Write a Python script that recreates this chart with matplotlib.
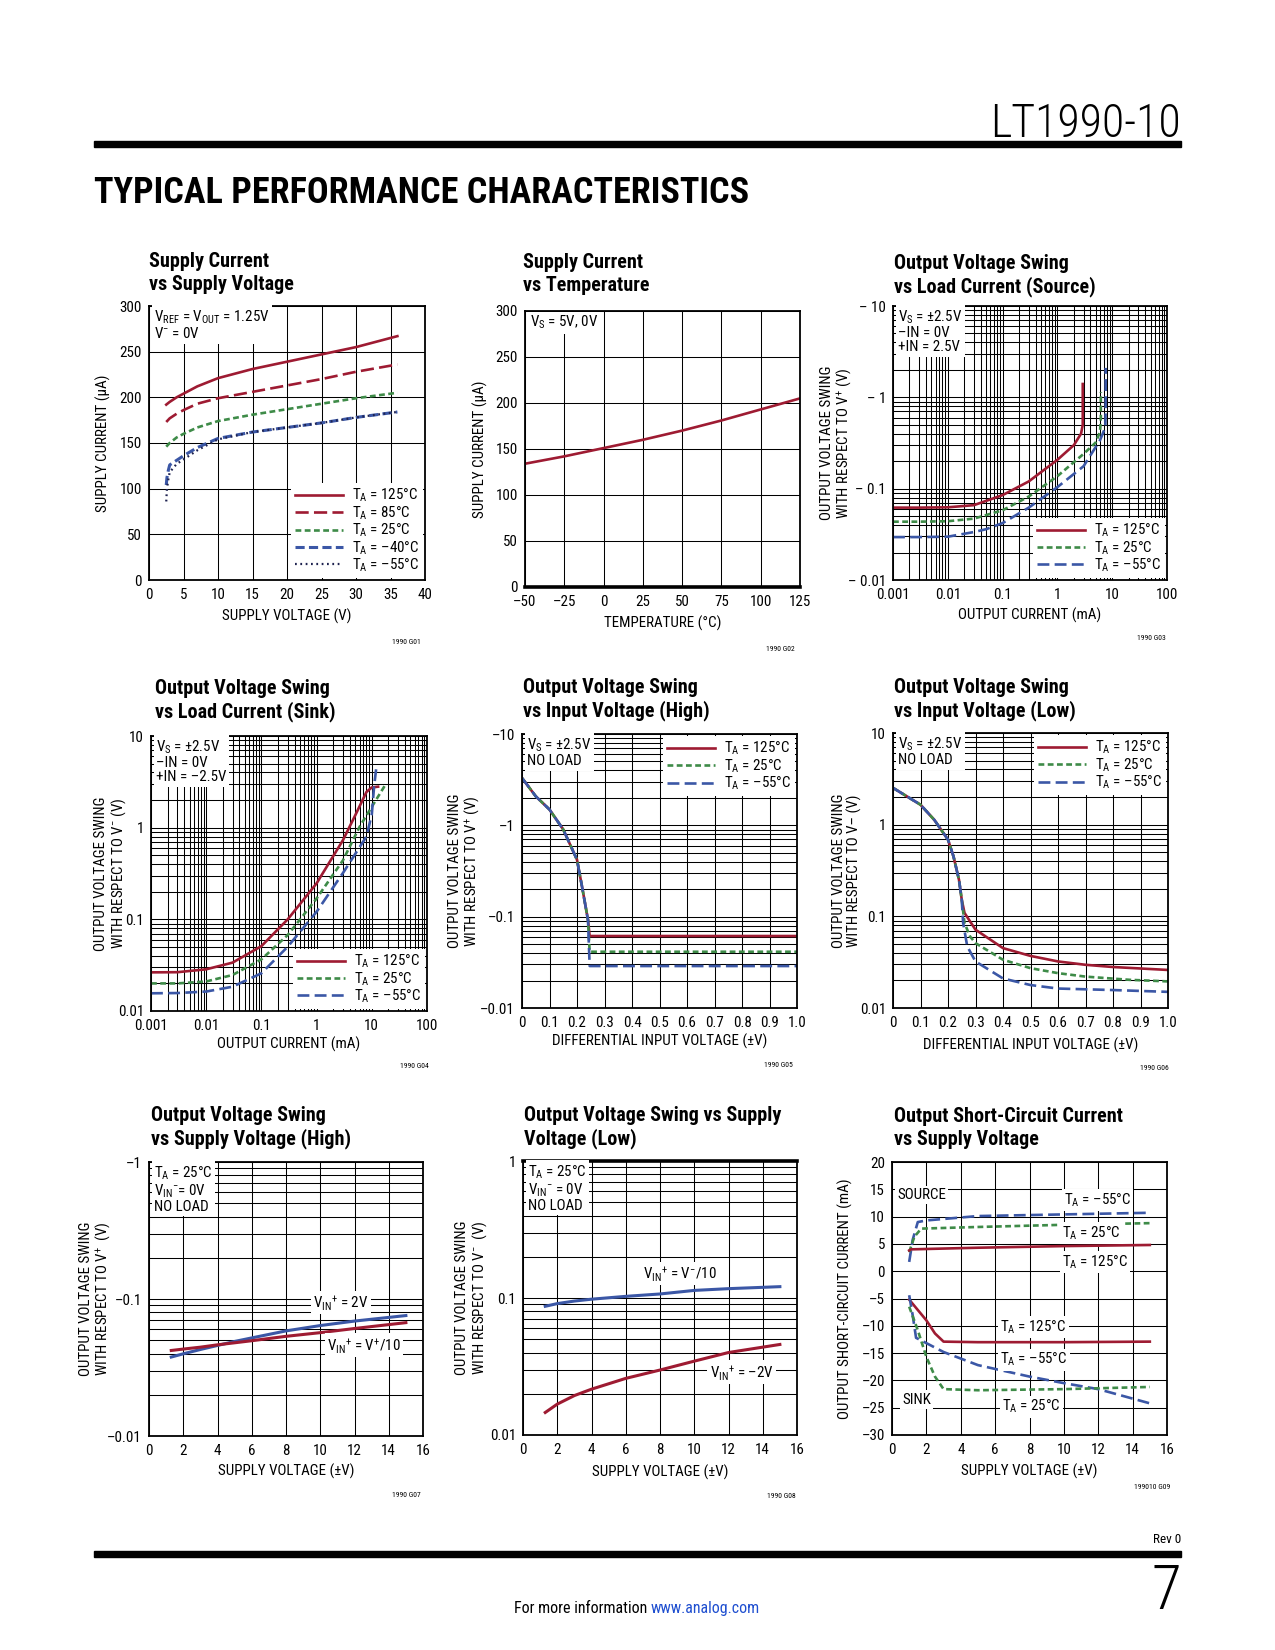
import matplotlib
matplotlib.use("Agg")
import matplotlib.pyplot as plt
from matplotlib import font_manager
from matplotlib.patches import Rectangle
from matplotlib.ticker import NullFormatter, FixedLocator, LogLocator

# ==============================================================================
# 1. DATA
# ==============================================================================
# G01 supply current vs supply voltage
g01_vs = [2.5, 3, 4, 5, 7, 10, 15, 20, 25, 30, 36]
g01_125 = [192, 195, 200, 204, 212, 221, 231, 239, 247, 255, 267]
g01_85 = [173, 177, 182, 186, 193, 199, 206, 213, 220, 228, 236]
g01_25 = [146, 150, 156, 160, 167, 174, 181, 187, 193, 199, 205]
g01_vs_cold = [2.5, 2.6, 2.8, 3, 4, 5, 7, 10, 15, 20, 25, 30, 36]
g01_m40 = [104, 112, 120, 126, 131, 136, 145, 155, 162, 167, 172, 178, 184]
g01_m55 = [86, 100, 110, 118, 127, 132, 142, 154, 162, 167, 172, 178, 184]

# G02 supply current vs temperature
g02_temp = [-50, -25, 0, 25, 50, 75, 100, 125]
g02_icc = [134, 142, 151, 160, 170, 181, 193, 205]

# G03 swing vs load current (source), magnitudes
g03_i_125 = [0.001, 0.003, 0.01, 0.03, 0.1, 0.3, 1, 2, 2.7, 2.9, 2.9]
g03_v_125 = [0.062, 0.062, 0.0625, 0.066, 0.085, 0.12, 0.207, 0.3, 0.4, 0.5, 1.4]
g03_i_25 = [0.001, 0.003, 0.01, 0.03, 0.1, 0.3, 1, 3, 5, 6, 6.2, 6.2]
g03_v_25 = [0.0435, 0.0435, 0.044, 0.047, 0.058, 0.082, 0.137, 0.24, 0.32, 0.42, 0.6, 1.14]
g03_i_m55 = [0.001, 0.003, 0.01, 0.03, 0.05, 0.1, 0.3, 1, 3, 6, 7.5, 7.6, 7.6]
g03_v_m55 = [0.0295, 0.0295, 0.0298, 0.0335, 0.036, 0.042, 0.062, 0.104, 0.176, 0.34, 0.47, 0.8, 2.1]

# G04 swing vs load current (sink)
g04_i_125 = [0.001, 0.003, 0.01, 0.03, 0.1, 0.3, 1, 3, 5, 8, 10, 13]
g04_v_125 = [0.0264, 0.0265, 0.0285, 0.0337, 0.051, 0.1, 0.247, 0.73, 1.36, 2.45, 2.75, 2.8]
g04_i_25 = [0.001, 0.003, 0.01, 0.03, 0.1, 0.3, 1, 3, 6, 10, 18]
g04_v_25 = [0.020, 0.020, 0.021, 0.0247, 0.0366, 0.0675, 0.169, 0.44, 1.02, 1.69, 3.0]
g04_i_m55 = [0.001, 0.003, 0.01, 0.03, 0.1, 0.3, 1, 3, 8, 10, 11, 12]
g04_v_m55 = [0.0156, 0.0157, 0.0163, 0.0184, 0.0258, 0.0503, 0.121, 0.32, 0.8, 1.4, 2.8, 4.4]

# G05 swing vs input voltage (high), magnitudes
g05_vin = [0, 0.05, 0.1, 0.15, 0.2, 0.22, 0.24, 0.246, 1.0]
g05_125 = [3.3, 2.08, 1.49, 0.9, 0.42, 0.2, 0.092, 0.0614, 0.0614]
g05_25 = [3.3, 2.08, 1.49, 0.9, 0.42, 0.2, 0.092, 0.0413, 0.0413]
g05_m55 = [3.3, 2.08, 1.49, 0.9, 0.42, 0.2, 0.092, 0.0288, 0.0288]

# G06 swing vs input voltage (low)
g06_vin_125 = [0, 0.05, 0.1, 0.15, 0.2, 0.22, 0.24, 0.25, 0.26, 0.3, 0.4, 0.5, 0.6, 0.7, 0.8, 1.0]
g06_125 = [2.52, 2.04, 1.65, 1.13, 0.686, 0.45, 0.25, 0.152, 0.109, 0.0715, 0.045, 0.037, 0.0322, 0.0296, 0.028, 0.026]
g06_vin_25 = [0, 0.05, 0.1, 0.15, 0.2, 0.22, 0.24, 0.25, 0.26, 0.28, 0.3, 0.4, 0.5, 0.6, 0.7, 0.86, 1.0]
g06_25 = [2.52, 2.04, 1.65, 1.13, 0.686, 0.45, 0.25, 0.152, 0.0846, 0.0605, 0.051, 0.0336, 0.0272, 0.024, 0.022, 0.0203, 0.0195]
g06_vin_m55 = [0, 0.05, 0.1, 0.15, 0.2, 0.22, 0.24, 0.25, 0.255, 0.27, 0.3, 0.4, 0.5, 0.6, 0.8, 1.0]
g06_m55 = [2.52, 2.04, 1.65, 1.13, 0.686, 0.45, 0.25, 0.152, 0.085, 0.047, 0.0322, 0.021, 0.0178, 0.0163, 0.0157, 0.015]

# G07 swing vs supply voltage (high), magnitudes
g07_vs = [1.3, 2, 3, 4, 5, 6, 8, 10, 12, 15]
g07_2v = [0.0377, 0.0398, 0.0428, 0.0458, 0.049, 0.052, 0.0585, 0.064, 0.069, 0.0757]
g07_div10 = [0.0421, 0.0431, 0.0445, 0.0463, 0.0479, 0.0496, 0.0534, 0.0568, 0.0609, 0.0672]

# G08 swing vs supply voltage (low)
g08_vs = [1.3, 2, 3, 4, 6, 8, 10, 12, 15]
g08_div10 = [0.087, 0.091, 0.095, 0.098, 0.1028, 0.107, 0.1136, 0.117, 0.121]
g08_m2v = [0.0146, 0.0168, 0.0194, 0.0216, 0.0259, 0.0298, 0.0346, 0.0400, 0.0458]

# G09 short-circuit current vs supply voltage
g09_src_m55_vs = [1.0, 1.2, 1.5, 2, 5, 10, 15]
g09_src_m55 = [1.7, 5.7, 9.0, 9.3, 10.1, 10.4, 10.7]
g09_src_25_vs = [1.0, 1.3, 1.7, 5, 10, 15]
g09_src_25 = [3.5, 6.3, 7.8, 8.1, 8.5, 8.8]
g09_src_125_vs = [1.0, 1.1, 5, 10, 15]
g09_src_125 = [3.8, 4.0, 4.3, 4.6, 4.8]
g09_snk_125_vs = [1.0, 2, 2.5, 3, 5, 10, 15]
g09_snk_125 = [-5.2, -9.0, -11.4, -12.9, -13.0, -13.0, -12.9]
g09_snk_m55_vs = [1.0, 1.2, 1.4, 3, 5, 8, 10, 12, 15]
g09_snk_m55 = [-4.4, -8.0, -12.2, -14.8, -17.2, -19.3, -20.5, -21.6, -24.2]
g09_snk_25_vs = [1.0, 1.5, 2, 2.5, 3, 5, 10, 15]
g09_snk_25 = [-6.5, -10.8, -15.7, -19.3, -21.6, -21.8, -21.6, -21.2]

# tick labels
log_ticks_i = [0.001, 0.01, 0.1, 1, 10, 100]
log_labels_i = ['0.001', '0.01', '0.1', '1', '10', '100']
diff_ticks = [0, 0.1, 0.2, 0.3, 0.4, 0.5, 0.6, 0.7, 0.8, 0.9, 1.0]
diff_labels = ['0', '0.1', '0.2', '0.3', '0.4', '0.5', '0.6', '0.7', '0.8', '0.9', '1.0']

# ==============================================================================
# 2. STYLE
# ==============================================================================
W, H = 1275, 1650
RED = '#9E1B32'
GREEN = '#3E8B48'
BLUE = '#3B57A6'
NAVY = '#1E2250'
LINK = '#1F4FD0'


def pick_font(candidates):
    """first condensed family that has both a regular and a bold face"""
    faces = {}
    for f in font_manager.fontManager.ttflist:
        faces.setdefault(f.name, set()).add(f.weight)
    for name in candidates:
        ws = faces.get(name, set())
        if ws and any((w if isinstance(w, int) else 700 if w == 'bold' else 400) >= 600 for w in ws):
            return name
    return 'DejaVu Sans'


NARROW = pick_font(['Roboto Condensed', 'Archivo Narrow', 'PT Sans Narrow',
                    'IBM Plex Sans Condensed', 'Barlow Semi Condensed',
                    'Fira Sans Condensed', 'Liberation Sans'])

plt.rcParams['font.family'] = [NARROW, 'DejaVu Sans']
plt.rcParams['mathtext.fontset'] = 'custom'
plt.rcParams['mathtext.rm'] = NARROW
plt.rcParams['mathtext.it'] = NARROW + ':italic'
plt.rcParams['mathtext.bf'] = NARROW + ':bold'

FS = 10.8
LW = 1.9
STY_125 = dict(color=RED, lw=LW, ls='-')
STY_85 = dict(color=RED, lw=LW, ls=(0, (5, 2)))
STY_25 = dict(color=GREEN, lw=LW, ls=(0, (2.2, 1.3)))
STY_M40 = dict(color=BLUE, lw=2.2, ls=(0, (3, 1.4)))
STY_M55_DOT = dict(color=NAVY, lw=1.6, ls=(0, (0.8, 1.6)))
STY_M55 = dict(color=BLUE, lw=LW, ls=(0, (4.5, 2)))

TA = 'T$_{\\rm A}$ = '


def fig_xy(x, y):
    """pixel position (from top-left) -> figure fraction"""
    return x / W, 1 - y / H


def make_axes(fig, box):
    l, t, r, b = box
    ax = fig.add_axes([l / W, 1 - b / H, (r - l) / W, (b - t) / H])
    ax.tick_params(which='both', length=0, labelsize=FS)
    ax.tick_params(axis='x', pad=6)
    ax.tick_params(axis='y', pad=5)
    for s in ax.spines.values():
        s.set_linewidth(1.3)
    ax.grid(True, which='both', color='black', linewidth=0.75)
    ax.set_axisbelow(True)
    return ax


def log_y(ax, lo, hi, labels):
    ax.set_yscale('log')
    ax.set_ylim(lo, hi)
    ticks = [lo * 10 ** k for k in range(len(labels))]
    ax.yaxis.set_major_locator(FixedLocator(ticks))
    ax.set_yticklabels(labels)
    ax.yaxis.set_minor_locator(LogLocator(subs=range(2, 10)))
    ax.yaxis.set_minor_formatter(NullFormatter())


def log_x(ax):
    ax.set_xscale('log')
    ax.set_xlim(0.001, 100)
    ax.xaxis.set_major_locator(FixedLocator(log_ticks_i))
    ax.set_xticklabels(log_labels_i)
    ax.xaxis.set_minor_locator(LogLocator(subs=range(2, 10)))
    ax.xaxis.set_minor_formatter(NullFormatter())


def titles(fig, x, y, line1, line2):
    fig.text(*fig_xy(x, y), line1, fontsize=14.5, fontweight='bold', va='baseline')
    fig.text(*fig_xy(x, y + 23), line2, fontsize=14.5, fontweight='bold', va='baseline')


def labels(fig, box, xlab, ylab, xlab_y, ylab_x, code, code_xy):
    l, t, r, b = box
    fig.text(*fig_xy((l + r) / 2, xlab_y), xlab, fontsize=FS, ha='center', va='center')
    fig.text(*fig_xy(ylab_x, (t + b) / 2), ylab, fontsize=FS, ha='center', va='center',
             rotation=90, linespacing=1.05, multialignment='center')
    fig.text(*fig_xy(*code_xy), code, fontsize=5.5, ha='center', va='center')


def note(ax, text):
    ax.annotate(text, xy=(0, 1), xycoords='axes fraction', xytext=(5, -3),
                textcoords='offset pixels', ha='left', va='top', fontsize=FS,
                linespacing=1.0, zorder=6,
                bbox=dict(boxstyle='square,pad=0.15', fc='white', ec='none'))


def legend(ax, loc):
    leg = ax.legend(loc=loc, fontsize=FS, frameon=True, fancybox=False,
                    edgecolor='none', facecolor='white', framealpha=1,
                    borderpad=0.25, labelspacing=0.0, handlelength=3.2,
                    handletextpad=0.6, borderaxespad=0.15)
    leg.set_zorder(7)
    return leg


def line_label(ax, x, y, text):
    ax.text(x, y, text, fontsize=FS, ha='left', va='center', zorder=6,
            bbox=dict(boxstyle='square,pad=0.15', fc='white', ec='none'))


# ==============================================================================
# 3. PAGE
# ==============================================================================
fig = plt.figure(figsize=(W / 100, H / 100), dpi=100)

fig.text(*fig_xy(1181, 137), 'LT1990-10', fontsize=33, fontweight='light',
         ha='right', va='baseline')
fig.add_artist(Rectangle(fig_xy(94, 147), (1181 - 94) / W, 6 / H,
                         transform=fig.transFigure, color='black'))
fig.text(*fig_xy(94, 203), 'TYPICAL PERFORMANCE CHARACTERISTICS', fontsize=26,
         fontweight='black', va='baseline')

fig.add_artist(Rectangle(fig_xy(94, 1557), (1181 - 94) / W, 6 / H,
                         transform=fig.transFigure, color='black'))
fig.text(*fig_xy(1181, 1543), 'Rev 0', fontsize=9.5, ha='right', va='baseline')
fig.text(*fig_xy(1181, 1609), '7', fontsize=44, fontweight='light', ha='right', va='baseline')
fig.text(*fig_xy(651, 1613), 'For more information ', fontsize=11.5, ha='right', va='baseline')
fig.text(*fig_xy(651, 1613), 'www.analog.com', fontsize=11.5, ha='left', va='baseline',
         color=LINK)

# ---------------- G01 ----------------
box = (149, 306, 425, 580)
ax = make_axes(fig, box)
ax.plot(g01_vs, g01_125, label=TA + '125°C', **STY_125)
ax.plot(g01_vs, g01_85, label=TA + '85°C', **STY_85)
ax.plot(g01_vs, g01_25, label=TA + '25°C', **STY_25)
ax.plot(g01_vs_cold, g01_m40, label=TA + '–40°C', **STY_M40)
ax.plot(g01_vs_cold, g01_m55, label=TA + '–55°C', **STY_M55_DOT)
ax.set_xlim(0, 40)
ax.set_ylim(0, 300)
ax.set_xticks(range(0, 41, 5))
ax.set_yticks(range(0, 301, 50))
note(ax, 'V$_{\\rm REF}$ = V$_{\\rm OUT}$ = 1.25V\nV$^{-}$ = 0V')
legend(ax, 'lower right')
titles(fig, 149, 267, 'Supply Current', 'vs Supply Voltage')
labels(fig, box, 'SUPPLY VOLTAGE (V)', 'SUPPLY CURRENT (µA)', 616, 103,
       '1990 G01', (406, 642))

# ---------------- G02 ----------------
box = (525, 311, 800, 587)
ax = make_axes(fig, box)
ax.plot(g02_temp, g02_icc, **STY_125)
ax.set_xlim(-50, 125)
ax.set_ylim(0, 300)
ax.set_xticks(range(-50, 126, 25))
ax.set_xticklabels(['–50', '–25', '0', '25', '50', '75', '100', '125'])
ax.set_yticks(range(0, 301, 50))
ax.spines['bottom'].set_linewidth(2.6)
note(ax, 'V$_{\\rm S}$ = 5V, 0V')
titles(fig, 523, 268, 'Supply Current', 'vs Temperature')
labels(fig, box, 'TEMPERATURE (°C)', 'SUPPLY CURRENT (µA)', 623, 480,
       '1990 G02', (780, 649))

# ---------------- G03 ----------------
box = (893, 306, 1167, 580)
ax = make_axes(fig, box)
ax.plot(g03_i_125, g03_v_125, label=TA + '125°C', **STY_125)
ax.plot(g03_i_25, g03_v_25, label=TA + '25°C', **STY_25)
ax.plot(g03_i_m55, g03_v_m55, label=TA + '–55°C', **STY_M55)
log_x(ax)
log_y(ax, 0.01, 10, ['– 0.01', '– 0.1', '– 1', '– 10'])
note(ax, 'V$_{\\rm S}$ = ±2.5V\n–IN = 0V\n+IN = 2.5V')
legend(ax, 'lower right')
titles(fig, 894, 269, 'Output Voltage Swing', 'vs Load Current (Source)')
labels(fig, box, 'OUTPUT CURRENT (mA)',
       'OUTPUT VOLTAGE SWING\nWITH RESPECT TO V$^{+}$ (V)', 615, 837,
       '1990 G03', (1151, 638))

# ---------------- G04 ----------------
box = (151, 736, 427, 1011)
ax = make_axes(fig, box)
ax.plot(g04_i_125, g04_v_125, label=TA + '125°C', **STY_125)
ax.plot(g04_i_25, g04_v_25, label=TA + '25°C', **STY_25)
ax.plot(g04_i_m55, g04_v_m55, label=TA + '–55°C', **STY_M55)
log_x(ax)
log_y(ax, 0.01, 10, ['0.01', '0.1', '1', '10'])
note(ax, 'V$_{\\rm S}$ = ±2.5V\n–IN = 0V\n+IN = –2.5V')
legend(ax, 'lower right')
titles(fig, 155, 694, 'Output Voltage Swing', 'vs Load Current (Sink)')
labels(fig, box, 'OUTPUT CURRENT (mA)',
       'OUTPUT VOLTAGE SWING\nWITH RESPECT TO V$^{-}$ (V)', 1044, 111,
       '1990 G04', (414, 1066))

# ---------------- G05 ----------------
box = (522, 734, 797, 1008)
ax = make_axes(fig, box)
ax.plot(g05_vin, g05_125, label=TA + '125°C', **STY_125)
ax.plot(g05_vin, g05_25, label=TA + '25°C', **STY_25)
ax.plot(g05_vin, g05_m55, label=TA + '–55°C', **STY_M55)
ax.set_xlim(0, 1.0)
ax.set_xticks(diff_ticks)
ax.set_xticklabels(diff_labels)
log_y(ax, 0.01, 10, ['–0.01', '–0.1', '–1', '–10'])
note(ax, 'V$_{\\rm S}$ = ±2.5V\nNO LOAD')
legend(ax, 'upper right')
titles(fig, 523, 693, 'Output Voltage Swing', 'vs Input Voltage (High)')
labels(fig, box, 'DIFFERENTIAL INPUT VOLTAGE (±V)',
       'OUTPUT VOLTAGE SWING\nWITH RESPECT TO V$^{+}$ (V)', 1041, 465,
       '1990 G05', (778, 1065))

# ---------------- G06 ----------------
box = (893, 733, 1168, 1008)
ax = make_axes(fig, box)
ax.plot(g06_vin_125, g06_125, label=TA + '125°C', **STY_125)
ax.plot(g06_vin_25, g06_25, label=TA + '25°C', **STY_25)
ax.plot(g06_vin_m55, g06_m55, label=TA + '–55°C', **STY_M55)
ax.set_xlim(0, 1.0)
ax.set_xticks(diff_ticks)
ax.set_xticklabels(diff_labels)
log_y(ax, 0.01, 10, ['0.01', '0.1', '1', '10'])
note(ax, 'V$_{\\rm S}$ = ±2.5V\nNO LOAD')
legend(ax, 'upper right')
titles(fig, 894, 693, 'Output Voltage Swing', 'vs Input Voltage (Low)')
labels(fig, box, 'DIFFERENTIAL INPUT VOLTAGE (±V)',
       'OUTPUT VOLTAGE SWING\nWITH RESPECT TO V– (V)', 1045, 847,
       '1990 G06', (1154, 1068))

# ---------------- G07 ----------------
box = (149, 1162, 423, 1436)
ax = make_axes(fig, box)
ax.plot(g07_vs, g07_2v, color=BLUE, lw=2.2)
ax.plot(g07_vs, g07_div10, color=RED, lw=2.2)
ax.set_xlim(0, 16)
ax.set_xticks(range(0, 17, 2))
log_y(ax, 0.01, 1, ['–0.01', '–0.1', '–1'])
note(ax, 'T$_{\\rm A}$ = 25°C\nV$_{\\rm IN}$$^{-}$= 0V\nNO LOAD')
line_label(ax, 9.6, 0.094, 'V$_{\\rm IN}$$^{+}$ = 2V')
line_label(ax, 10.4, 0.046, 'V$_{\\rm IN}$$^{+}$ = V$^{+}$/10')
titles(fig, 151, 1121, 'Output Voltage Swing', 'vs Supply Voltage (High)')
labels(fig, box, 'SUPPLY VOLTAGE (±V)',
       'OUTPUT VOLTAGE SWING\nWITH RESPECT TO V$^{+}$  (V)', 1471, 96,
       '1990 G07', (406, 1495))

# ---------------- G08 ----------------
box = (523, 1161, 797, 1435)
ax = make_axes(fig, box)
ax.plot(g08_vs, g08_div10, color=BLUE, lw=2.2)
ax.plot(g08_vs, g08_m2v, color=RED, lw=2.2)
ax.set_xlim(0, 16)
ax.set_xticks(range(0, 17, 2))
log_y(ax, 0.01, 1, ['0.01', '0.1', '1'])
ax.spines['top'].set_linewidth(2.6)
note(ax, 'T$_{\\rm A}$ = 25°C\nV$_{\\rm IN}$$^{-}$ = 0V\nNO LOAD')
line_label(ax, 7.0, 0.151, 'V$_{\\rm IN}$$^{+}$ = V$^{-}$/10')
line_label(ax, 10.9, 0.0288, 'V$_{\\rm IN}$$^{+}$ = –2V')
titles(fig, 524, 1121, 'Output Voltage Swing vs Supply', 'Voltage (Low)')
labels(fig, box, 'SUPPLY VOLTAGE (±V)',
       'OUTPUT VOLTAGE SWING\nWITH RESPECT TO V$^{-}$  (V)', 1472, 472,
       '1990 G08', (781, 1496))

# ---------------- G09 ----------------
box = (892, 1162, 1167, 1435)
ax = make_axes(fig, box)
ax.plot(g09_src_m55_vs, g09_src_m55, **STY_M55)
ax.plot(g09_src_25_vs, g09_src_25, **STY_25)
ax.plot(g09_src_125_vs, g09_src_125, **STY_125)
ax.plot(g09_snk_125_vs, g09_snk_125, **STY_125)
ax.plot(g09_snk_m55_vs, g09_snk_m55, **STY_M55)
ax.plot(g09_snk_25_vs, g09_snk_25, **STY_25)
ax.set_xlim(0, 16)
ax.set_ylim(-30, 20)
ax.set_xticks(range(0, 17, 2))
ax.set_yticks(range(-30, 21, 5))
ax.set_yticklabels(['–30', '–25', '–20', '–15', '–10', '–5', '0', '5', '10', '15', '20'])
line_label(ax, 0.3, 14.0, 'SOURCE')
line_label(ax, 10.0, 13.0, TA + '–55°C')
line_label(ax, 9.9, 7.0, TA + '25°C')
line_label(ax, 9.9, 1.7, TA + '125°C')
line_label(ax, 6.3, -10.2, TA + '125°C')
line_label(ax, 6.3, -16.2, TA + '–55°C')
line_label(ax, 0.6, -23.5, 'SINK')
line_label(ax, 6.4, -24.8, TA + '25°C')
titles(fig, 894, 1122, 'Output Short-Circuit Current', 'vs Supply Voltage')
labels(fig, box, 'SUPPLY VOLTAGE (±V)', 'OUTPUT SHORT-CIRCUIT CURRENT (mA)',
       1471, 845, '199010 G09', (1152, 1487))

fig.savefig('out.png', dpi=100)
